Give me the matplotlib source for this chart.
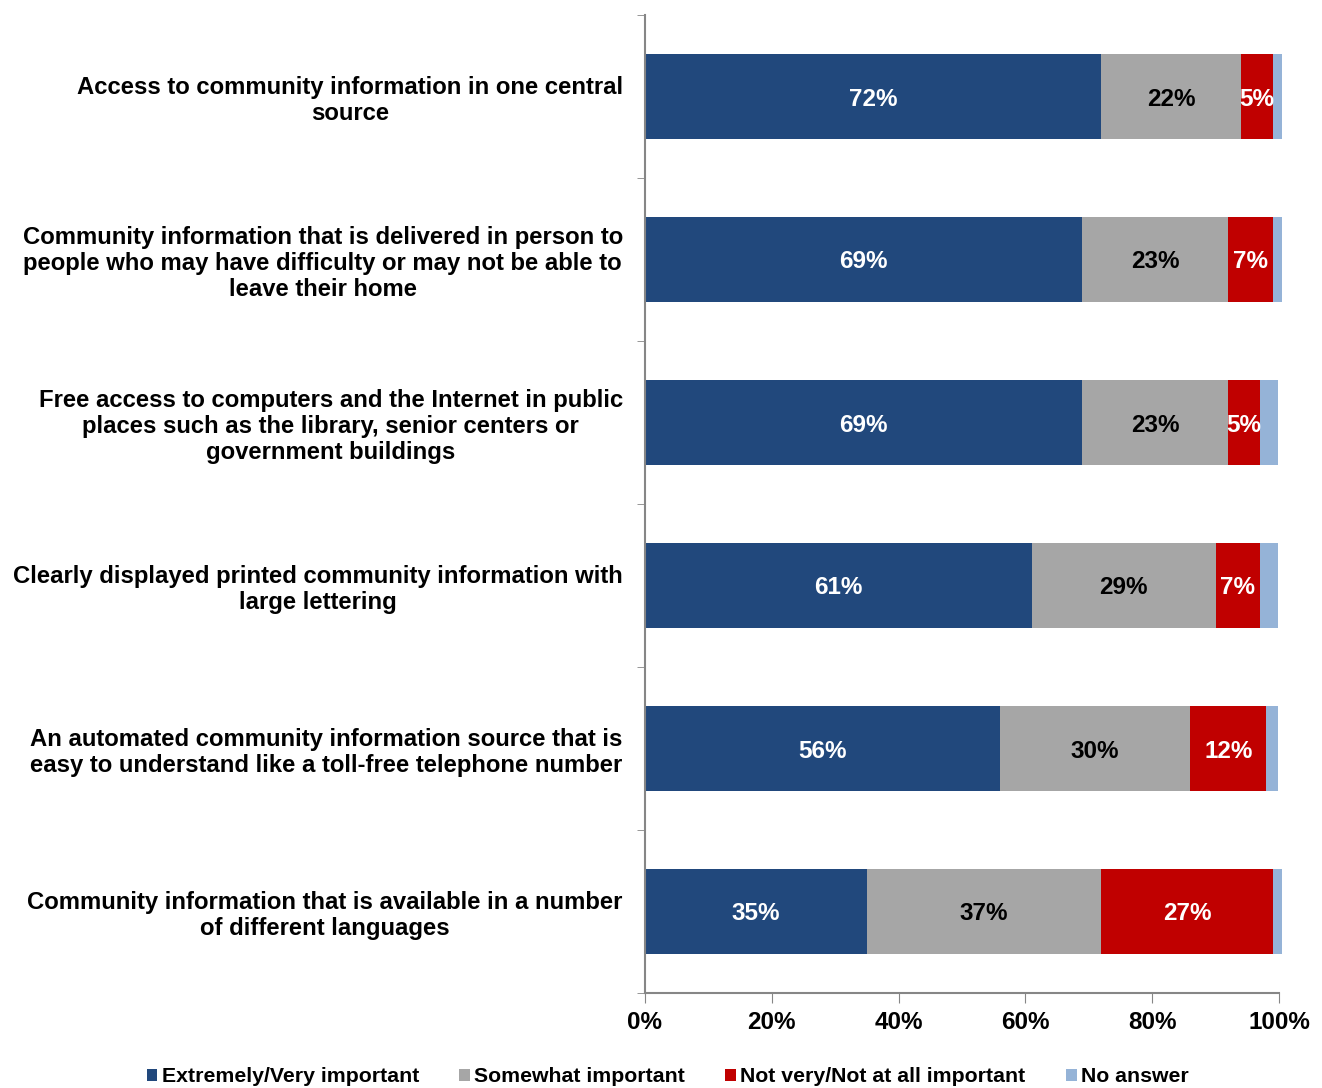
import matplotlib
matplotlib.use("Agg")
import matplotlib.pyplot as plt
import numpy as np

plt.rcParams['font.family'] = ['Liberation Sans', 'DejaVu Sans']
plt.rcParams['font.weight'] = 'bold'

categories = [
    "Access to community information in one central\nsource",
    "Community information that is delivered in person to\npeople who may have difficulty or may not be able to\nleave their home",
    "Free access to computers and the Internet in public\nplaces such as the library, senior centers or\ngovernment buildings",
    "Clearly displayed printed community information with\nlarge lettering",
    "An automated community information source that is\neasy to understand like a toll-free telephone number",
    "Community information that is available in a number\nof different languages",
]
series_names = ["Extremely/Very important", "Somewhat important",
                "Not very/Not at all important", "No answer"]
extremely = [72, 69, 69, 61, 56, 35]
somewhat = [22, 23, 23, 29, 30, 37]
not_important = [5, 7, 5, 7, 12, 27]
no_answer = [1.4, 1.4, 2.8, 2.8, 1.9, 1.4]

colors = ['#21487C', '#A6A6A6', '#C00000', '#95B3D7']
label_colors = ['white', 'black', 'white', None]

fig = plt.figure(figsize=(13.22, 10.88), dpi=100)
ax = fig.add_axes([645/1322, 1 - 993/1088, (1279 - 645)/1322, (993 - 15)/1088])

y = np.arange(len(categories))
left = np.zeros(len(categories))
for vals, name, c, lc in zip([extremely, somewhat, not_important, no_answer],
                             series_names, colors, label_colors):
    bars = ax.barh(y, vals, left=left, height=0.52, color=c, label=name, clip_on=False)
    if lc:
        for b, v in zip(bars, vals):
            ax.text(b.get_x() + b.get_width() / 2, b.get_y() + b.get_height() / 2,
                    f"{v:.0f}%", ha='center', va='center_baseline', color=lc,
                    fontsize=17.5, fontweight='bold')
    left += np.array(vals)

ax.set_xlim(0, 100)
ax.set_ylim(len(categories) - 0.5, -0.5)
ax.set_xticks(np.arange(0, 101, 20))
ax.set_xticklabels([f"{t}%" for t in range(0, 101, 20)], fontsize=17.5, fontweight='bold')
ax.set_yticks(y)
ax.set_yticklabels(categories, fontsize=17.2, fontweight='bold', multialignment='center',
                   linespacing=1.15)
ax.set_yticks(np.arange(-0.5, len(categories), 1), minor=True)
ax.tick_params(axis='y', which='major', length=0, pad=16)
ax.tick_params(axis='y', which='minor', length=6, color='#868686')
ax.tick_params(axis='x', length=7, color='#868686', pad=6)

for s in ['top', 'right']:
    ax.spines[s].set_visible(False)
for s in ['left', 'bottom']:
    ax.spines[s].set_color('#868686')
    ax.spines[s].set_linewidth(1.5)

fig.legend(loc='lower center', bbox_to_anchor=(0.505, -0.016), ncol=4, frameon=False,
           handlelength=0.5, handleheight=0.5, handletextpad=0.2,
           columnspacing=1.9, prop={'weight': 'bold', 'size': 15.3})

plt.savefig("out.png", dpi=100)
